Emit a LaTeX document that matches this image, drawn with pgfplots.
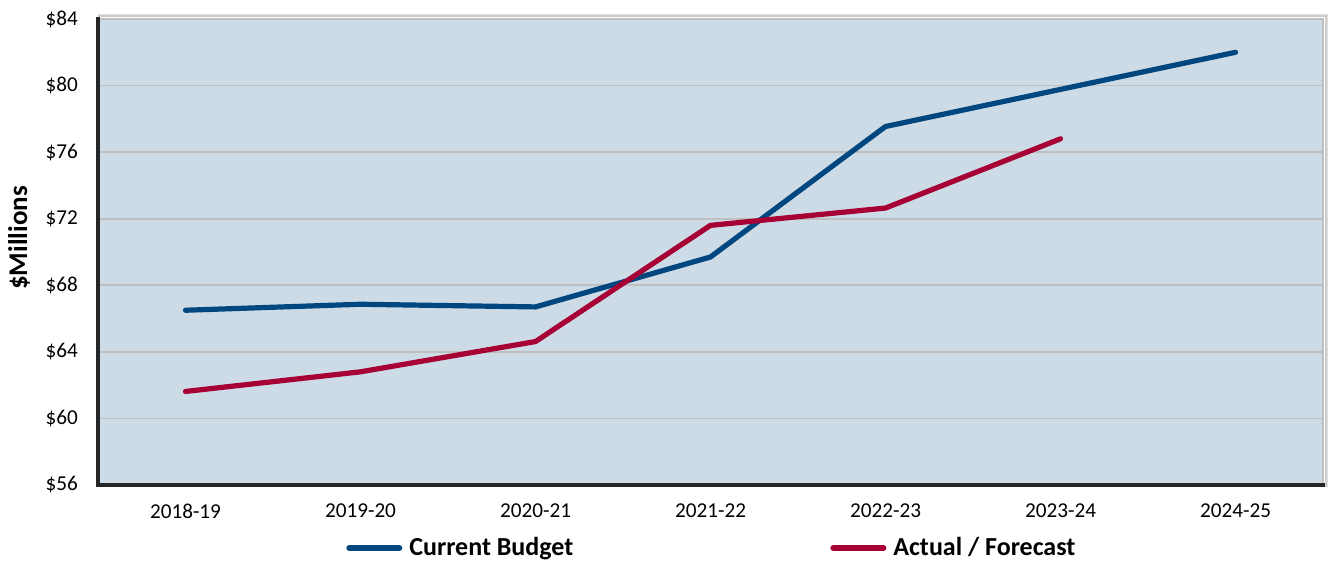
\documentclass[border=0pt]{standalone}
\usepackage{fontspec}
\setmainfont{Carlito}
\usepackage{pgfplots}
\pgfplotsset{compat=1.18}
\definecolor{bgc}{RGB}{205,219,230}
\definecolor{cbud}{RGB}{0,70,127}
\definecolor{cact}{RGB}{166,0,52}
\definecolor{gridc}{RGB}{191,191,191}
\definecolor{axc}{RGB}{38,38,38}
\begin{document}
\begin{tikzpicture}
\useasboundingbox (0,0) rectangle (665pt,281pt);
\begin{axis}[
  at={(49pt,38.5pt)}, anchor=south west,
  scale only axis, width=612.5pt, height=233pt,
  xmin=-0.5, xmax=6.5, ymin=56, ymax=84,
  xtick={0,...,6},
  xticklabels={2018-19,2019-20,2020-21,2021-22,2022-23,2023-24,2024-25},
  ytick={56,60,64,68,72,76,80,84},
  yticklabels={\$56,\$60,\$64,\$68,\$72,\$76,\$80,\$84},
  major tick length=0pt,
  ymajorgrids, grid style={gridc, line width=0.8pt},
  axis line style={draw=none},
  axis background/.style={fill=bgc},
  tick label style={font=\fontsize{10.6}{12}\selectfont, text=black},
  yticklabel style={xshift=-6.5pt},
  xticklabel style={yshift=-6pt},
  clip=false,
  legend columns=2,
  legend style={at={(0.2024,-0.135)}, anchor=west, draw=none, fill=none,
    font=\bfseries\fontsize{13}{15}\selectfont, inner sep=0pt,
    nodes={inner sep=0pt},
    /tikz/every even column/.append style={column sep=128.5pt},
    /tikz/every odd column/.append style={column sep=3.5pt}},
  legend image code/.code={\draw[#1, line width=3pt, line cap=round] (1.5pt,0pt) -- (26.5pt,0pt);},
]
\draw[black, opacity=0.12, line width=0.6pt] ([yshift=2.2pt]rel axis cs:0,1) -- ([xshift=2.2pt,yshift=2.2pt]rel axis cs:1,1) -- ([xshift=2.2pt,yshift=-1pt]rel axis cs:1,0);
\draw[black, opacity=0.2, line width=0.6pt] ([yshift=1.5pt]rel axis cs:0,1) -- ([xshift=1.5pt,yshift=1.5pt]rel axis cs:1,1) -- ([xshift=1.5pt,yshift=-1pt]rel axis cs:1,0);
\draw[gridc, line width=0.9pt] (rel axis cs:0,1) -- (rel axis cs:1,1) -- (rel axis cs:1,0);
\draw[axc, line width=2.2pt, line cap=rect] (rel axis cs:0,1) -- (rel axis cs:0,0) -- (rel axis cs:1,0);
\addplot[cbud, line width=2.6pt, line cap=round, line join=round]
  coordinates {(0,66.5)(1,66.86)(2,66.7)(3,69.7)(4,77.54)(5,79.77)(6,82.0)};
\addlegendentry{Current Budget}
\addplot[cact, line width=2.6pt, line cap=round, line join=round]
  coordinates {(0,61.62)(1,62.8)(2,64.62)(3,71.6)(4,72.64)(5,76.8)};
\addlegendentry{Actual / Forecast}
\end{axis}
\node[rotate=90, font=\bfseries\fontsize{13.5}{15}\selectfont] at (9.5pt,162pt) {\$Millions};
\end{tikzpicture}
\end{document}
